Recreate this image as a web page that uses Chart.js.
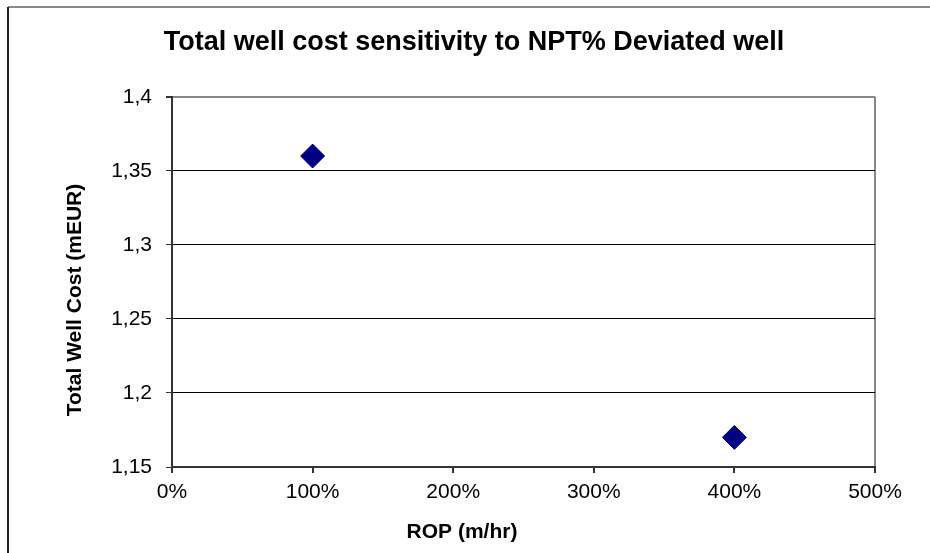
<!DOCTYPE html>
<html>
<head>
<meta charset="utf-8">
<script src="https://cdn.jsdelivr.net/npm/chart.js@4.4.1/dist/chart.umd.min.js"></script>
<style>
  html, body { margin: 0; padding: 0; background: #fff; }
  #wrap { width: 930px; height: 553px; position: relative; }
</style>
</head>
<body>
<div id="wrap"><canvas id="myChart" width="930" height="553"></canvas></div>
<script>
// data
const ropPercent = [100, 400];
const wellCost = [1.36, 1.17];
const xTickLabels = ['0%', '100%', '200%', '300%', '400%', '500%'];
const yTickLabels = ['1,15', '1,2', '1,25', '1,3', '1,35', '1,4'];
const xTitle = 'ROP (m/hr)';
const yTitle = 'Total Well Cost (mEUR)';

const FONT = "'Liberation Sans', Arial, sans-serif";

// outer frame (left + top edges) and the axis titles, which sit off-centre in the original
const extras = {
  id: 'extras',
  afterDraw(chart) {
    const c = chart.ctx;
    c.save();
    c.lineWidth = 2;
    c.strokeStyle = '#888888';
    c.beginPath(); c.moveTo(8, 7); c.lineTo(930, 7); c.stroke();
    c.strokeStyle = '#222222';
    c.beginPath(); c.moveTo(8, 7); c.lineTo(8, 553); c.stroke();

    c.fillStyle = '#000';
    c.font = 'bold 21px ' + FONT;
    c.textAlign = 'center';
    c.textBaseline = 'middle';
    c.fillText(xTitle, 462, 532);
    c.translate(75, 300);
    c.rotate(-Math.PI / 2);
    c.fillText(yTitle, 0, 0);
    c.restore();
  }
};

var ctx = document.getElementById('myChart').getContext('2d');
var chart = new Chart(ctx, {
  type: 'scatter',
  data: {
    datasets: [{
      label: 'Total well cost',
      data: ropPercent.map((x, i) => ({ x: x, y: wellCost[i] })),
      pointStyle: 'rectRot',
      pointRadius: 12,
      pointHoverRadius: 12,
      backgroundColor: '#000080',
      borderColor: '#000080',
      borderWidth: 1
    }]
  },
  options: {
    responsive: false,
    animation: false,
    layout: { padding: { left: 73, right: 55, top: 0, bottom: 0 } },
    plugins: {
      legend: { display: false },
      tooltip: { enabled: false },
      title: {
        display: true,
        text: 'Total well cost sensitivity to NPT% Deviated well',
        color: '#000',
        font: { family: FONT, size: 27, weight: 'bold' },
        padding: { top: 26.8, bottom: 37.6 }
      }
    },
    scales: {
      x: {
        type: 'linear',
        min: 0,
        max: 500,
        afterFit: (s) => { s.height = 86; },
        ticks: {
          stepSize: 100,
          color: '#000',
          padding: 7,
          maxRotation: 0,
          font: { family: FONT, size: 21 },
          callback: (v, i) => xTickLabels[i]
        },
        grid: {
          color: (c) => c.index === xTickLabels.length - 1 ? '#888888' : 'rgba(0,0,0,0)',
          lineWidth: 2,
          tickColor: '#333333',
          tickLength: 6
        },
        border: { color: '#333333', width: 2 }
      },
      y: {
        min: 1.15,
        max: 1.4,
        afterFit: (s) => { s.width = 99; },
        ticks: {
          stepSize: 0.05,
          color: '#000',
          padding: 14,
          font: { family: FONT, size: 21 },
          callback: (v, i) => yTickLabels[i]
        },
        grid: {
          color: (c) => c.index === yTickLabels.length - 1 ? '#888888' : '#000000',
          lineWidth: (c) => c.index === yTickLabels.length - 1 ? 2 : 1,
          tickColor: '#333333',
          tickLength: 6
        },
        border: { color: '#333333', width: 2 }
      }
    }
  },
  plugins: [extras]
});
</script>
</body>
</html>
